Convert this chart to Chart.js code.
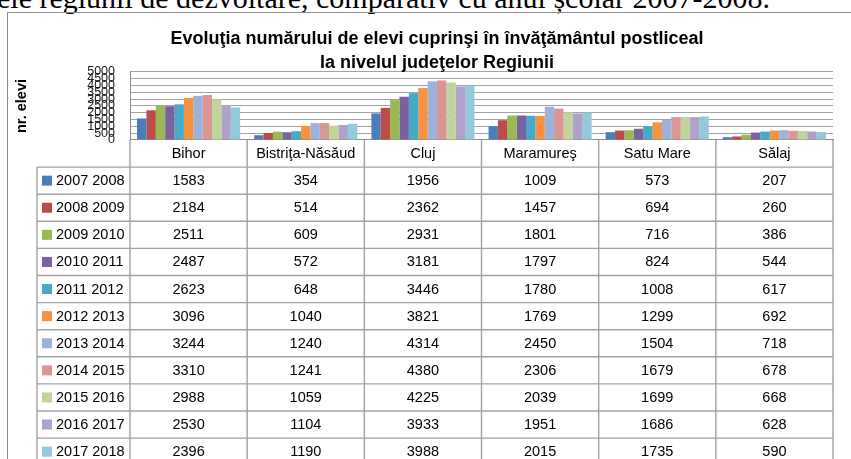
<!DOCTYPE html>
<html>
<head>
<meta charset="utf-8">
<script src="https://cdn.jsdelivr.net/npm/chart.js@4.4.0/dist/chart.umd.min.js"></script>
<style>
  html, body { margin: 0; padding: 0; background: #fff; overflow: hidden; width: 851px; height: 459px; }
  #intro { position: absolute; left: -3px; top: -17px; font: 30px "Liberation Serif", serif; line-height: 1; white-space: nowrap; color: #000; }
  #frame { position: absolute; left: 7px; top: 12px; width: 900px; height: 500px; border-left: 1.5px solid #8d8d8d; border-top: 1.5px solid #8d8d8d; }
  #chart { position: absolute; left: 8px; top: 12px; }
</style>
</head>
<body>
<div id="intro">ele regiunii de dezvoltare, comparativ cu anul școlar 2007-2008.</div>
<div id="frame"></div>
<canvas id="chart" width="858" height="447"></canvas>
<script>
const counties = ['Bihor', 'Bistriţa-Năsăud', 'Cluj', 'Maramureş', 'Satu Mare', 'Sălaj'];
const schoolYears = ['2007 2008', '2008 2009', '2009 2010', '2010 2011', '2011 2012', '2012 2013',
    '2013 2014', '2014 2015', '2015 2016', '2016 2017', '2017 2018'];

// one array per school year, values in the order of counties
const y0708 = [1583, 354, 1956, 1009, 573, 207];
const y0809 = [2184, 514, 2362, 1457, 694, 260];
const y0910 = [2511, 609, 2931, 1801, 716, 386];
const y1011 = [2487, 572, 3181, 1797, 824, 544];
const y1112 = [2623, 648, 3446, 1780, 1008, 617];
const y1213 = [3096, 1040, 3821, 1769, 1299, 692];
const y1314 = [3244, 1240, 4314, 2450, 1504, 718];
const y1415 = [3310, 1241, 4380, 2306, 1679, 678];
const y1516 = [2988, 1059, 4225, 2039, 1699, 668];
const y1617 = [2530, 1104, 3933, 1951, 1686, 628];
const y1718 = [2396, 1190, 3988, 2015, 1735, 590];
const seriesValues = [y0708, y0809, y0910, y1011, y1112, y1213, y1314, y1415, y1516, y1617, y1718];

const seriesColors = ['#4a7ebb', '#be4b48', '#98b954', '#7d60a0', '#46aac5', '#f69240',
    '#9cb2db', '#d99694', '#bfd59c', '#afa1c9', '#93cadb'];

const yTickValues = [0, 500, 1000, 1500, 2000, 2500, 3000, 3500, 4000, 4500, 5000];

const sans = '"Liberation Sans", Arial, sans-serif';

// Excel-style data table drawn under the plot, columns taken from the x scale
const dataTable = {
    id: 'dataTable',
    afterDraw(chart) {
        const ctx = chart.ctx;
        const xs = chart.scales.x;
        const top = chart.chartArea.bottom;
        const rowH = 27.1;
        const keyLeft = 29;
        const step = xs.getPixelForValue(1) - xs.getPixelForValue(0);
        const bottom = top + rowH * (schoolYears.length + 1);

        ctx.save();
        ctx.strokeStyle = '#a2a2a2';
        ctx.lineWidth = 1.4;
        ctx.beginPath();
        for (let i = 0; i <= counties.length; i++) {
            const x = xs.getPixelForValue(i) - step / 2;
            ctx.moveTo(x, top);
            ctx.lineTo(x, bottom);
        }
        ctx.moveTo(keyLeft, top + rowH);
        ctx.lineTo(keyLeft, bottom);
        for (let r = 1; r <= schoolYears.length + 1; r++) {
            const y = top + r * rowH;
            ctx.moveTo(keyLeft, y);
            ctx.lineTo(xs.right, y);
        }
        ctx.stroke();

        ctx.font = '14.5px ' + sans;
        ctx.fillStyle = '#000';
        ctx.textBaseline = 'middle';
        schoolYears.forEach(function (label, r) {
            const yMid = top + rowH * (r + 1.5);
            ctx.fillStyle = seriesColors[r];
            ctx.fillRect(keyLeft + 5, yMid - 5, 10, 10);
            ctx.fillStyle = '#000';
            ctx.textAlign = 'left';
            ctx.fillText(label, keyLeft + 19, yMid + 0.5);
            ctx.textAlign = 'center';
            seriesValues[r].forEach(function (v, c) {
                ctx.fillText(String(v), xs.getPixelForValue(c), yMid + 0.5);
            });
        });
        ctx.restore();
    }
};

const ctx = document.getElementById('chart').getContext('2d');
const chart = new Chart(ctx, {
    type: 'bar',
    data: {
        labels: counties,
        datasets: schoolYears.map(function (year, i) {
            return {
                label: year,
                data: seriesValues[i],
                backgroundColor: seriesColors[i],
                borderWidth: 0,
                categoryPercentage: 0.88,
                barPercentage: 1.0
            };
        })
    },
    options: {
        responsive: false,
        animation: false,
        devicePixelRatio: 1,
        layout: { padding: 0, autoPadding: false },
        plugins: {
            legend: { display: false },
            tooltip: { enabled: false },
            title: {
                display: true,
                text: ['Evoluţia numărului de elevi cuprinşi în învăţământul postliceal', 'la nivelul judeţelor Regiunii'],
                color: '#000',
                font: { family: sans, size: 18, weight: 'bold', lineHeight: 1.3333 },
                padding: { top: 15.5, bottom: -3.5 }
            }
        },
        scales: {
            x: {
                grid: { display: false, drawTicks: false },
                border: { display: true, color: '#8c8c8c' },
                ticks: { color: '#000', font: { family: sans, size: 14.5 }, padding: 5, autoSkip: false, maxRotation: 0 },
                afterFit(scale) { scale.height = 319; }
            },
            y: {
                min: 0,
                max: 5000,
                afterBuildTicks(scale) { scale.ticks = yTickValues.map(v => ({ value: v })); },
                grid: { color: '#a3a3a3', drawTicks: false },
                border: { color: '#8c8c8c' },
                ticks: {
                    autoSkip: false,
                    padding: 15,
                    color: '#1a1a1a',
                    font: { family: sans, size: 12.5 },
                    callback: function (value) { return String(value); }
                },
                title: {
                    display: true,
                    text: 'nr. elevi',
                    color: '#000',
                    font: { family: sans, size: 14.5, weight: 'bold' },
                    padding: { top: 5.3, bottom: 0 }
                },
                afterFit(scale) { scale.width = 122; }
            },
            yRight: {
                position: 'right',
                grid: { display: false },
                border: { display: false },
                ticks: { display: false },
                afterFit(scale) { scale.width = 33; }
            }
        }
    },
    plugins: [dataTable]
});
</script>
</body>
</html>
